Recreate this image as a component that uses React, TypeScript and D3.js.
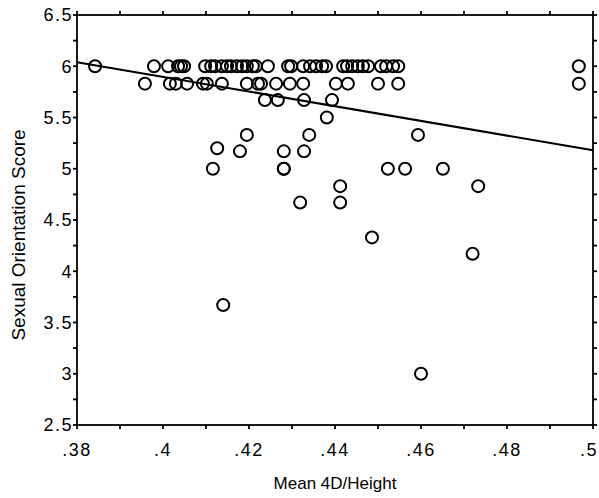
import React from "react";
import * as d3 from "d3";

// Mean 4D/Height (x) and Sexual Orientation Score (y)
const ratio: number[] = [
  // score 6
  0.3842, 0.3979, 0.4012, 0.4035, 0.4042, 0.4049, 0.4098, 0.4112, 0.4121, 0.4137, 0.4149, 0.4158,
  0.4172, 0.4184, 0.4195, 0.4209, 0.4216, 0.4244, 0.4291, 0.4298, 0.4326, 0.4342, 0.4356, 0.437,
  0.4379, 0.4419, 0.4428, 0.444, 0.4453, 0.4465, 0.4477, 0.4507, 0.4519, 0.4535, 0.4547, 0.4967,
  // score 5.83
  0.3958, 0.4016, 0.403, 0.4056, 0.4093, 0.4102, 0.4137, 0.4195, 0.4221, 0.4228, 0.4263, 0.4295,
  0.4326, 0.4402, 0.443, 0.45, 0.4547, 0.4967,
  // 5.67
  0.4237, 0.4267, 0.4328, 0.4393,
  // 5.5
  0.4381,
  // 5.33
  0.4195, 0.434, 0.4593,
  // 5.2
  0.4126,
  // 5.17
  0.4179, 0.4281, 0.4328,
  // 5
  0.4116, 0.4281, 0.4281, 0.4523, 0.4563, 0.4651,
  // 4.83
  0.4412, 0.4733,
  // 4.67
  0.4319, 0.4412,
  // 4.33
  0.4486,
  // 4.17
  0.472,
  // 3.67
  0.414,
  // 3
  0.46,
];

const score: number[] = [
  ...Array(36).fill(6),
  ...Array(18).fill(5.83),
  5.67, 5.67, 5.67, 5.67,
  5.5,
  5.33, 5.33, 5.33,
  5.2,
  5.17, 5.17, 5.17,
  5, 5, 5, 5, 5, 5,
  4.83, 4.83,
  4.67, 4.67,
  4.33,
  4.17,
  3.67,
  3,
];

const fitX: number[] = [0.38, 0.5];
const fitY: number[] = [6.04, 5.18];

const xTickVals: number[] = [0.38, 0.4, 0.42, 0.44, 0.46, 0.48, 0.5];
const xTickLabels: string[] = [".38", ".4", ".42", ".44", ".46", ".48", ".5"];
const yTickVals: number[] = [2.5, 3, 3.5, 4, 4.5, 5, 5.5, 6, 6.5];
const yTickLabels: string[] = ["2.5", "3", "3.5", "4", "4.5", "5", "5.5", "6", "6.5"];

const W = 599;
const H = 498;
const L = 77, R = 593, T = 15, B = 425;

export default function App() {
  const x = d3.scaleLinear().domain([0.38, 0.5]).range([L, R]);
  const y = d3.scaleLinear().domain([2.5, 6.5]).range([B, T]);
  const xMinor = d3.range(0, 13).map((i) => 0.38 + i * 0.01);
  const yMinor = d3.range(0, 17).map((i) => 2.5 + i * 0.25);
  const line = d3.line<number>().x((d, i) => x(fitX[i])).y((d, i) => y(fitY[i]));
  const tk = 4;
  const font = "Liberation Sans, Arial, Helvetica, sans-serif";
  return (
    <svg width={W} height={H} style={{ position: "absolute", left: 0, top: 0, background: "#fff" }}>
      <g stroke="#000" strokeWidth={1.8} fill="none">
        <rect x={L} y={T} width={R - L} height={B - T} />
        {xMinor.map((v, i) => (
          <g key={"xm" + i}>
            <line x1={x(v)} x2={x(v)} y1={B} y2={B + tk} />
            <line x1={x(v)} x2={x(v)} y1={T} y2={T - tk} />
          </g>
        ))}
        {yMinor.map((v, i) => (
          <g key={"ym" + i}>
            <line x1={L} x2={L - tk} y1={y(v)} y2={y(v)} />
            <line x1={R} x2={R + tk} y1={y(v)} y2={y(v)} />
          </g>
        ))}
      </g>
      <path d={line(fitX) || ""} stroke="#000" strokeWidth={2} fill="none" />
      <g stroke="#000" strokeWidth={2} fill="none">
        {ratio.map((v, i) => (
          <circle key={i} cx={x(v)} cy={y(score[i])} r={6} />
        ))}
      </g>
      <g fontFamily={font} fontSize={18} fill="#000" letterSpacing={1.5}>
        {yTickVals.map((v, i) => (
          <text key={"yl" + i} x={L - 4} y={y(v)} dy="0.36em" textAnchor="end">
            {yTickLabels[i]}
          </text>
        ))}
        {xTickVals.map((v, i) => {
          const last = i === xTickVals.length - 1;
          return (
            <text
              key={"xl" + i}
              x={last ? W - 1 : x(v)}
              y={456}
              textAnchor={last ? "end" : "middle"}
            >
              {xTickLabels[i]}
            </text>
          );
        })}
      </g>
      <text x={(L + R) / 2} y={489} textAnchor="middle" fontFamily={font} fontSize={17}>
        Mean 4D/Height
      </text>
      <text
        transform={`translate(25, ${235}) rotate(-90)`}
        textAnchor="middle"
        fontFamily={font}
        fontSize={19}
      >
        Sexual Orientation Score
      </text>
    </svg>
  );
}
